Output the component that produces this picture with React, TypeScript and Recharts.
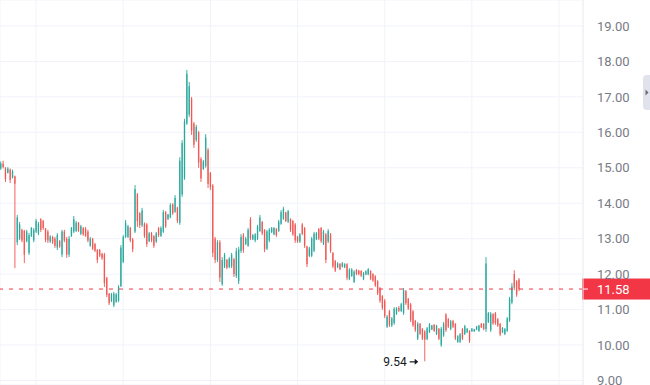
import React from 'react';
import { ComposedChart, Bar, XAxis, YAxis, CartesianGrid, ReferenceLine, ReferenceDot } from 'recharts';

const opens = [
  14.98, 15.12, 14.98, 14.86, 14.95, 14.72, 14.76, 12.9, 13.0, 13.25,
  13.22, 12.92, 12.6, 13.07, 12.95, 13.2, 13.15, 13.55, 13.5, 13.28,
  13.2, 12.92, 13.05, 13.0, 12.75, 12.94, 12.55, 13.2, 13.0, 12.55,
  13.08, 13.2, 13.22, 13.45, 13.14, 13.3, 13.28, 13.2, 12.8, 13.0,
  12.85, 12.68, 12.68, 12.58, 12.55, 11.9, 11.45, 11.24, 11.12, 11.22,
  11.25, 11.66, 12.35, 13.05, 13.05, 13.3, 12.98,
  13.2, 14.25, 13.72,
  13.38, 13.42, 13.4, 12.93, 13.16, 13.07, 12.92, 13.3, 13.08, 13.2,
  13.75, 13.55, 13.6, 13.97, 13.76, 13.88, 13.45, 14.25, 14.7, 16.25,
  16.5, 16.95, 16.25, 15.78, 16.0, 15.25, 14.97, 15.05, 15.5, 14.85,
  14.5, 13.0, 12.4, 12.9, 11.72, 12.2, 12.4, 12.2, 12.22, 12.42,
  11.95, 11.8, 12.65, 13.1, 12.85, 12.8, 13.55, 12.98, 12.95, 13.0,
  13.22, 13.47, 13.25, 12.72, 12.95, 13.18, 13.12, 13.28, 13.22, 13.42,
  13.56, 13.74, 13.48, 13.55, 13.5, 13.4, 13.06, 12.92, 13.4, 13.3,
  12.78, 12.52, 12.52, 12.66, 12.98, 13.27, 13.3, 12.86, 13.12, 12.92,
  13.12, 12.6, 12.37, 12.19, 12.29, 12.21, 12.19, 12.28, 11.86, 11.95,
  11.78, 12.12, 12.1, 12.09, 11.86, 11.99, 11.99, 12.09, 12.0, 11.94,
  11.8, 11.6, 11.38, 11.25, 10.52, 10.95, 10.55, 10.62,
  10.88, 11.05,
  10.96, 10.9, 11.52, 11.3, 11.15, 10.95, 10.68, 10.18, 10.6, 10.45,
  10.38, 10.17, 10.37, 10.44, 10.57, 10.31, 10.46, 10.0, 10.27, 10.86,
  10.73, 10.45, 10.68, 10.59, 10.09, 10.09, 10.45, 10.31, 10.36, 10.4,
  10.39, 10.39, 10.44, 10.4, 10.6, 10.6, 10.45, 10.65, 10.42, 10.87,
  10.9, 10.73, 10.6, 10.36, 10.31, 10.4, 10.7, 11.2, 12.0, 11.8,
  11.85,
];

const highs = [
  15.18, 15.2, 15.02, 15.02, 14.98, 14.95, 14.78, 13.67, 13.47, 13.28,
  13.25, 13.25, 13.16, 13.33, 13.3, 13.56, 13.47, 13.58, 13.53, 13.3,
  13.25, 13.1, 13.08, 13.05, 13.16, 12.96, 13.25, 13.25, 13.05, 13.08,
  13.33, 13.64, 13.5, 13.47, 13.39, 13.33, 13.33, 13.25, 13.05, 13.02,
  12.88, 12.71, 12.71, 12.6, 12.6, 11.92, 11.47, 11.47, 11.5, 11.47,
  11.69, 12.82, 13.1, 13.53, 13.39, 13.33, 13.02,
  14.51, 14.29, 13.75,
  13.87, 13.46, 13.44, 13.19, 13.19, 13.1, 13.19, 13.33, 13.35, 13.81,
  13.78, 13.7, 14.0, 14.0, 14.23, 13.9, 15.3, 15.78, 16.38, 17.76,
  17.42, 17.0, 16.29, 16.21, 16.04, 15.3, 15.22, 15.95, 15.56, 14.88,
  14.54, 13.05, 12.96, 12.96, 12.48, 12.6, 12.43, 12.48, 12.6, 12.46,
  12.74, 12.77, 13.13, 13.16, 13.05, 13.3, 13.61, 13.13, 13.16, 13.39,
  13.67, 13.5, 13.27, 13.25, 13.3, 13.33, 13.33, 13.3, 13.53, 13.81,
  13.9, 13.76, 13.81, 13.58, 13.53, 13.44, 13.08, 13.16, 13.44, 13.33,
  12.8, 12.77, 13.05, 13.19, 13.19, 13.3, 13.33, 13.25, 13.16, 13.27,
  13.16, 12.62, 12.4, 12.34, 12.31, 12.34, 12.31, 12.31, 12.17, 12.17,
  12.11, 12.14, 12.12, 12.11, 12.06, 12.11, 12.17, 12.11, 12.03, 11.97,
  11.83, 11.64, 11.41, 11.3, 10.85, 10.99, 10.79, 11.07,
  11.07, 11.1,
  11.19, 11.61, 11.55, 11.33, 11.19, 10.99, 10.71, 10.65, 10.62, 10.48,
  10.42, 10.51, 10.62, 10.57, 10.59, 10.57, 10.48, 10.51, 10.65, 10.9,
  10.76, 10.71, 10.71, 10.62, 10.28, 10.34, 10.48, 10.57, 10.48, 10.42,
  10.48, 10.46, 10.54, 10.57, 10.62, 10.62, 12.48, 10.93, 10.93, 10.9,
  10.93, 10.76, 10.62, 10.51, 10.48, 10.79, 11.36, 11.75, 12.11, 11.83,
  11.89,
];

const lows = [
  14.94, 14.98, 14.6, 14.84, 14.57, 14.7, 12.17, 12.82, 12.96, 12.9,
  12.31, 12.9, 12.54, 13.05, 12.9, 13.16, 13.1, 13.19, 13.25, 12.9,
  12.88, 12.88, 12.85, 12.74, 12.68, 12.74, 12.48, 12.9, 12.46, 12.48,
  13.05, 13.16, 13.19, 13.19, 13.1, 13.08, 13.05, 12.9, 12.77, 12.68,
  12.62, 12.31, 12.48, 12.4, 11.64, 11.35, 11.13, 11.21, 11.07, 11.19,
  11.21, 11.64, 12.31, 13.02, 13.02, 12.9, 12.62,
  13.16, 13.33, 13.3,
  13.33, 13.02, 12.77, 12.9, 12.9, 12.74, 12.88, 13.05, 13.05, 13.16,
  13.3, 13.53, 13.58, 13.67, 13.73, 13.44, 13.39, 14.18, 14.66, 16.21,
  16.43, 15.93, 15.56, 15.73, 15.0, 14.6, 14.94, 15.0, 14.43, 14.37,
  12.48, 12.31, 12.34, 11.78, 11.67, 12.17, 12.14, 12.17, 12.17, 11.92,
  11.89, 11.72, 12.6, 12.6, 12.82, 12.77, 12.96, 12.96, 12.9, 12.96,
  13.19, 13.1, 12.62, 12.68, 12.9, 13.16, 13.1, 13.05, 13.19, 13.39,
  13.53, 13.47, 13.44, 13.19, 13.08, 12.88, 12.88, 12.88, 13.1, 12.74,
  12.2, 12.48, 12.48, 12.62, 12.96, 12.96, 12.88, 12.82, 12.31, 12.88,
  12.6, 12.17, 12.06, 12.17, 12.11, 12.19, 12.17, 11.83, 11.83, 11.92,
  11.75, 11.97, 11.97, 11.92, 11.83, 11.97, 11.97, 11.83, 11.78, 11.64,
  11.41, 11.19, 10.99, 10.76, 10.48, 10.51, 10.51, 10.57,
  10.85, 10.93,
  10.93, 10.85, 11.13, 10.99, 10.65, 10.51, 10.37, 10.14, 10.28, 10.14,
  9.54, 10.14, 10.34, 10.42, 10.37, 10.28, 10.14, 9.95, 10.23, 10.37,
  10.48, 10.42, 10.48, 10.14, 10.06, 10.06, 10.14, 10.28, 10.34, 10.06,
  10.37, 10.37, 10.42, 10.37, 10.48, 10.42, 10.37, 10.62, 10.37, 10.57,
  10.57, 10.51, 10.25, 10.34, 10.28, 10.37, 10.65, 11.15, 11.55, 11.36,
  11.52,
];

const closes = [
  15.12, 15.02, 14.68, 14.98, 14.66, 14.9, 14.55, 13.6, 13.4, 12.95,
  12.55, 13.2, 13.1, 13.3, 13.25, 13.5, 13.42, 13.25, 13.3, 12.97,
  12.95, 13.06, 12.9, 12.8, 13.1, 12.78, 13.2, 12.95, 12.55, 13.0,
  13.3, 13.55, 13.45, 13.22, 13.35, 13.12, 13.08, 12.95, 13.0, 12.72,
  12.66, 12.4, 12.52, 12.45, 11.75, 11.42, 11.18, 11.44, 11.45, 11.43,
  11.64, 12.75, 13.05, 13.45, 13.35, 12.95, 12.7,
  14.4, 13.5, 13.38,
  13.8, 13.08, 12.85, 13.15, 12.95, 12.8, 13.15, 13.1, 13.3, 13.75,
  13.35, 13.68, 13.95, 13.72, 14.15, 13.5, 15.2, 15.7, 16.3, 17.65,
  17.3, 16.05, 15.65, 16.15, 15.15, 14.7, 15.18, 15.85, 14.55, 14.45,
  12.6, 12.4, 12.9, 11.9, 12.4, 12.55, 12.18, 12.44, 12.55, 12.0,
  12.65, 12.7, 13.05, 12.68, 13.0, 13.25, 13.02, 13.1, 13.12, 13.35,
  13.6, 13.15, 12.7, 13.2, 13.25, 13.3, 13.3, 13.1, 13.48, 13.75,
  13.85, 13.5, 13.78, 13.24, 13.12, 12.95, 12.92, 13.12, 13.14, 12.8,
  12.28, 12.72, 13.0, 13.14, 13.16, 13.0, 12.93, 13.2, 12.4, 13.22,
  12.66, 12.22, 12.1, 12.3, 12.14, 12.31, 12.28, 11.9, 12.12, 12.13,
  12.07, 12.0, 12.0, 11.96, 12.03, 12.08, 12.14, 11.87, 11.82, 11.68,
  11.46, 11.25, 11.05, 10.82, 10.8, 10.56, 10.75, 11.02,
  11.04, 10.97,
  11.15, 11.55, 11.18, 11.03, 10.7, 10.56, 10.42, 10.6, 10.32, 10.18,
  10.15, 10.47, 10.58, 10.55, 10.4, 10.54, 10.18, 10.46, 10.6, 10.42,
  10.52, 10.67, 10.52, 10.19, 10.25, 10.3, 10.18, 10.53, 10.46, 10.12,
  10.46, 10.44, 10.52, 10.55, 10.5, 10.45, 12.3, 10.9, 10.88, 10.61,
  10.62, 10.55, 10.3, 10.48, 10.45, 10.75, 11.3, 11.65, 11.62, 11.42,
  11.58,
];

const priceTicks = [9, 10, 11, 12, 13, 14, 15, 16, 17, 18, 19];
const timeTicks = [15, 52, 89, 126, 163, 200, 237];
const lastPrice = 11.58;
const lowIndex = 180;
const lowPrice = 9.54;

const UP = '#26a69a';
const DOWN_CANDLE = '#ef5350';
const DOWN = '#f23645';
const GRID = '#f0f3fa';
const FONT = 'Roboto, "Noto Sans", sans-serif';

const data = opens.map((o, i) => ({
  i,
  o,
  h: highs[i],
  l: lows[i],
  c: closes[i],
  range: [lows[i], highs[i]],
}));

const Candle = (props: any) => {
  const { x, y, width, height, payload } = props;
  if (x == null || y == null || payload == null) return null;
  const { o, h, l, c } = payload;
  const top = Math.min(y, y + height);
  const span = Math.abs(height);
  const k = h - l > 0 ? span / (h - l) : 0;
  const py = (p: number) => top + (h - p) * k;
  const cx = x + width / 2;
  const color = c >= o ? UP : DOWN_CANDLE;
  const bodyTop = py(Math.max(o, c));
  const bodyH = Math.max(1, py(Math.min(o, c)) - bodyTop);
  const bw = 1.4;
  return (
    <g>
      <line x1={cx} x2={cx} y1={top} y2={top + span} stroke={color} strokeWidth={0.9} />
      <rect x={cx - bw / 2} y={bodyTop} width={bw} height={bodyH} fill={color} fillOpacity={0.85} />
    </g>
  );
};

const PriceTick = (props: any) => {
  const { x, y, payload } = props;
  return (
    <text x={x} y={y} dy="0.36em" textAnchor="start" fill="#787b86" fontSize={13} fontFamily={FONT}>
      {Number(payload.value).toFixed(2)}
    </text>
  );
};

const PriceTag = (props: any) => {
  const vb = props.viewBox || {};
  const left = (vb.x || 0) + (vb.width || 0);
  const y = vb.y || 0;
  return (
    <g>
      <rect x={left - 1} y={y - 10.5} width={70} height={21} fill={DOWN} />
      <line x1={left} x2={left + 5} y1={y} y2={y} stroke="#ffffff" strokeWidth={1} />
      <text x={left + 14} y={y} dy="0.36em" textAnchor="start" fill="#ffffff" fontSize={13} fontFamily={FONT}>
        {lastPrice.toFixed(2)}
      </text>
    </g>
  );
};

const LowMark = (props: any) => {
  const { cx, cy } = props;
  if (cx == null || cy == null) return null;
  const ax = cx - 7;
  return (
    <g>
      <text x={cx - 18} y={cy} dy="0.36em" textAnchor="end" fill="#131722" fontSize={12} fontFamily={FONT}>
        {lowPrice.toFixed(2)}
      </text>
      <line x1={ax - 8} x2={ax - 2} y1={cy + 0.5} y2={cy + 0.5} stroke="#131722" strokeWidth={1.2} />
      <path d={`M${ax - 3} ${cy - 2.5} L${ax + 0.5} ${cy + 0.5} L${ax - 3} ${cy + 3.5} Z`} fill="#131722" />
    </g>
  );
};

export default function App() {
  return (
    <div style={{ position: 'fixed', left: 0, top: 0, width: 650, height: 385, background: '#ffffff', overflow: 'hidden' }}>
      <ComposedChart width={650} height={385} data={data} margin={{ top: 0, right: 0, bottom: 0, left: 0 }}>
        <CartesianGrid stroke={GRID} strokeWidth={1} />
        <XAxis
          type="number"
          dataKey="i"
          domain={[-0.3, 247.2]}
          ticks={timeTicks}
          allowDataOverflow
          hide
        />
        <YAxis
          orientation="right"
          width={67}
          domain={[8.873, 19.733]}
          allowDataOverflow
          ticks={priceTicks}
          interval={0}
          tickLine={false}
          tickSize={0}
          tickMargin={14}
          axisLine={{ stroke: '#eceef2' }}
          tick={<PriceTick />}
        />
        <Bar dataKey="range" shape={<Candle />} isAnimationActive={false} />
        <ReferenceLine
          y={lastPrice}
          stroke={DOWN}
          strokeWidth={1}
          strokeDasharray="4 6"
          label={<PriceTag />}
        />
        <ReferenceDot x={lowIndex} y={lowPrice} r={0} shape={<LowMark />} />
      </ComposedChart>
      <div style={{ position: 'absolute', left: 643, top: 75, width: 7, height: 35, background: '#e0e3eb', borderRadius: '4px 0 0 4px' }}>
        <svg width={7} height={35} style={{ display: 'block' }}>
          <path d="M2.5 14.5 L5.5 17.5 L2.5 20.5 Z" fill="#6a6d78" />
        </svg>
      </div>
    </div>
  );
}
